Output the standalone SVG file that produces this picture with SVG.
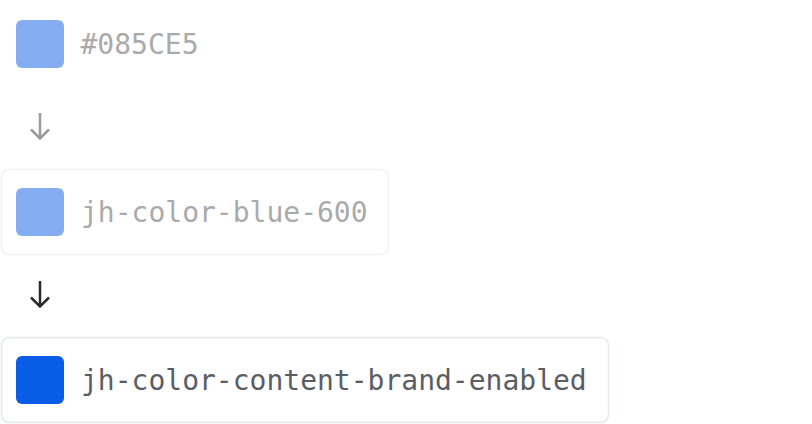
<svg xmlns="http://www.w3.org/2000/svg" width="812" height="424" viewBox="0 0 812 424">
<style>
.t{font-family:"DejaVu Sans Mono","Liberation Mono",monospace;font-size:28px}
.faded{fill:#aaaaaa}
.strong{fill:#5a5e64}
.card{fill:#ffffff;stroke-width:1.5}
.arrow{fill:none;stroke-width:2.5;stroke-linecap:butt;stroke-linejoin:miter}
</style>
<rect width="812" height="424" fill="#ffffff"/>
<g id="node-hex">
<rect x="16" y="20" width="48" height="48" rx="6" fill="#84adf2"/>
<text class="t faded" x="80.5" y="54">#085CE5</text>
</g>
<g id="node-blue-600">
<rect class="card" x="1.5" y="169.5" width="387" height="85" rx="8" stroke="#f0f0f0"/>
<rect x="16" y="188" width="48" height="48" rx="6" fill="#84adf2"/>
<text class="t faded" x="81" y="222">jh-color-blue-600</text>
</g>
<g id="node-brand-enabled">
<rect class="card" x="1.5" y="337.5" width="607" height="85" rx="8" stroke="#e4e7eb"/>
<rect x="16" y="356" width="48" height="48" rx="6" fill="#085ce5"/>
<text class="t strong" x="81" y="390">jh-color-content-brand-enabled</text>
</g>
<g id="connectors">
<path class="arrow" stroke="#9a9a9a" d="M40 113V139M31 129.5L40 138.5L49 129.5"/>
<path class="arrow" stroke="#2a2a2a" d="M40 281V307M31 297.5L40 306.5L49 297.5"/>
</g>
</svg>
